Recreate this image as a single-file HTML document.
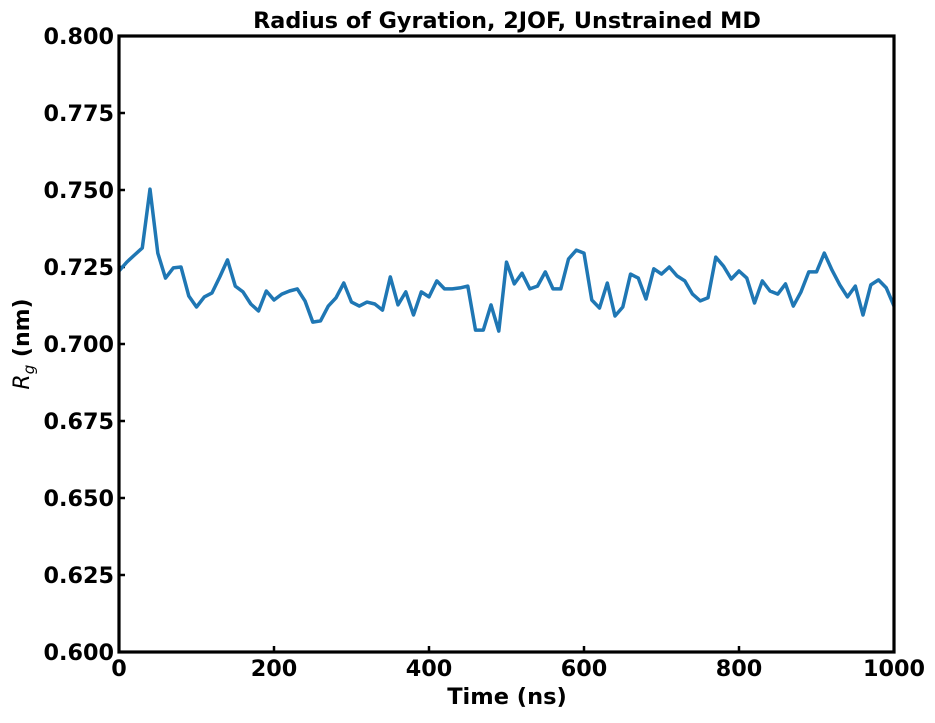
<!DOCTYPE html>
<html><head><meta charset="utf-8"><style>
body{margin:0;background:#fff;}
svg text{font-family:"DejaVu Sans",sans-serif;font-weight:bold;fill:#000;}
</style></head><body>
<svg id="chart" width="935" height="718">
<rect x="0" y="0" width="935" height="718" fill="#fff"/>
<text x="507" y="28" font-size="22.3" text-anchor="middle">Radius of Gyration, 2JOF, Unstrained MD</text>
<g id="yticks"></g>
<g id="xticks"></g>
<path id="line" fill="none" stroke="#1f77b4" stroke-width="3.5" stroke-linejoin="round"/>
<rect x="119" y="36" width="775" height="616" fill="none" stroke="#000" stroke-width="3.2"/>
<text x="507" y="704" font-size="22.5" text-anchor="middle">Time (ns)</text>
<text transform="translate(29,344) rotate(-90)" font-size="22" text-anchor="middle"><tspan font-style="italic" font-weight="normal">R</tspan><tspan font-style="italic" font-weight="normal" font-size="15" dy="5">g</tspan><tspan dy="-5"> (nm)</tspan></text>
</svg>
<script>
const times = [];
for (let t = 0; t <= 1000; t += 10) times.push(t);
const rg = [0.7237,0.7266,0.7289,0.7312,0.7503,0.7295,0.7214,0.7247,0.725,0.7156,0.712,0.7153,0.7166,0.7218,0.7273,0.7188,0.7169,0.713,0.7107,0.7172,0.7143,0.7162,0.7172,0.7179,0.714,0.7071,0.7075,0.7123,0.715,0.7198,0.7136,0.7123,0.7136,0.713,0.711,0.7218,0.7127,0.7169,0.7094,0.7169,0.7153,0.7205,0.7179,0.7179,0.7182,0.7188,0.7045,0.7045,0.7127,0.7042,0.7266,0.7195,0.723,0.7179,0.7188,0.7234,0.7179,0.7179,0.7276,0.7305,0.7295,0.7143,0.7117,0.7198,0.7091,0.712,0.7227,0.7214,0.7146,0.7244,0.7227,0.725,0.7221,0.7205,0.7162,0.714,0.715,0.7282,0.7253,0.7211,0.7237,0.7214,0.7133,0.7205,0.7172,0.7162,0.7195,0.7123,0.7169,0.7234,0.7234,0.7295,0.724,0.7192,0.7153,0.7188,0.7094,0.7192,0.7208,0.7182,0.7123];
const yTicks = [0.600,0.625,0.650,0.675,0.700,0.725,0.750,0.775,0.800];
const xTicks = [0,200,400,600,800,1000];
const X0=119,X1=894,Y0=652,Y1=36;
const xs = v => X0 + (v-0)/(1000-0)*(X1-X0);
const ys = v => Y0 - (v-0.6)/(0.8-0.6)*(Y0-Y1);
const NS="http://www.w3.org/2000/svg";
const yg=document.getElementById('yticks'), xg=document.getElementById('xticks');
yTicks.forEach(v=>{
  const l=document.createElementNS(NS,'line');
  
  
  l.setAttribute('x1',X0);l.setAttribute('x2',X0+6);l.setAttribute('y1',ys(v));l.setAttribute('y2',ys(v));l.setAttribute('stroke','#000');l.setAttribute('stroke-width','2.5');
  yg.appendChild(l);
  const t=document.createElementNS(NS,'text');
  
  
  t.setAttribute('x',X0-5);t.setAttribute('y',ys(v)+8);t.setAttribute('text-anchor','end');t.setAttribute('font-size','22.3');
  t.textContent=v.toFixed(3);yg.appendChild(t);
});
xTicks.forEach(v=>{
  const l=document.createElementNS(NS,'line');
  
  
  l.setAttribute('x1',xs(v));l.setAttribute('x2',xs(v));l.setAttribute('y1',Y0-6);l.setAttribute('y2',Y0);l.setAttribute('stroke','#000');l.setAttribute('stroke-width','2.5');
  xg.appendChild(l);
  const t=document.createElementNS(NS,'text');
  
  
  t.setAttribute('x',xs(v));t.setAttribute('y',Y0+24);t.setAttribute('text-anchor','middle');t.setAttribute('font-size','22.3');
  t.textContent=v;xg.appendChild(t);
});
document.getElementById('line').setAttribute('d', rg.map((v,i)=>(i?'L':'M')+xs(times[i]).toFixed(1)+','+ys(v).toFixed(1)).join(''));
</script>
</body></html>
